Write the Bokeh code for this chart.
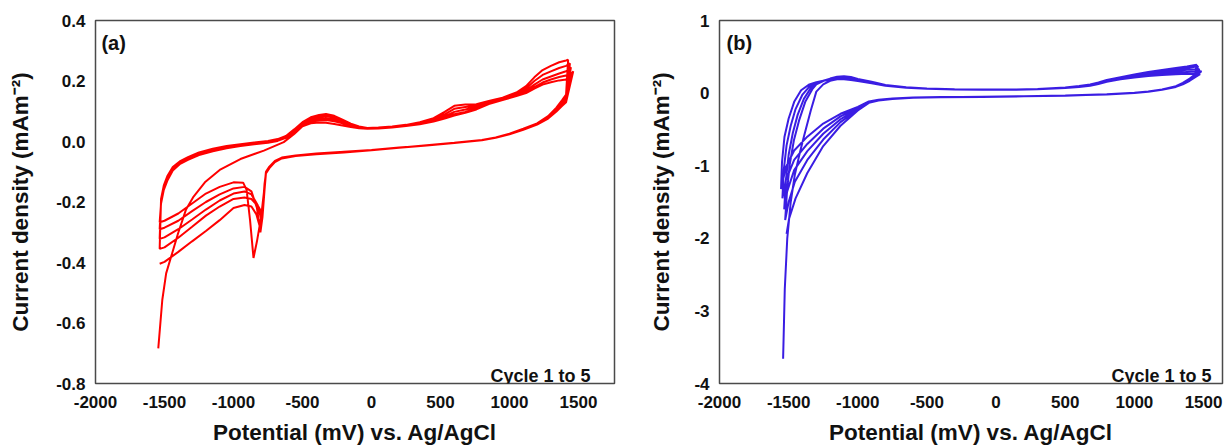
from bokeh.plotting import figure
from bokeh.layouts import row
from bokeh.models import FixedTicker, PrintfTickFormatter, Label, Range1d
from bokeh.embed import file_html
from bokeh.resources import INLINE

# ---------------- Panel (a) data : potential (mV), current density ----------------
A_FIRST_X = [-1545, -1516, -1488, -1445, -1402, -1345, -1289, -1203, -1100, -950, -780, -636, -560, -500]
A_FIRST_Y = [-0.684, -0.524, -0.436, -0.37, -0.304, -0.226, -0.182, -0.133, -0.094, -0.058, -0.030, -0.002, 0.025, 0.050]

A_UP_X = [-1525, -1505, -1480, -1440, -1390, -1330, -1250, -1150, -1050, -950, -850, -750, -680, -620,
          -560, -500, -440, -380, -330, -270, -210, -150, -90, -30, 50, 150, 250, 350, 450, 530, 600,
          680, 760, 850, 950, 1050, 1120, 1180, 1240, 1300, 1360, 1410]
A_UP_C1 = [0.060, 0.063, 0.062, 0.058, 0.053, 0.048, 0.044, 0.042, 0.043, 0.046, 0.051, 0.057, 0.066,
           0.076, 0.086, 0.095, 0.106, 0.124, 0.137, 0.150, 0.160, 0.175, 0.188, 0.196, 0.202, 0.205]
A_UP_C2 = [-0.205, -0.16, -0.13, -0.096, -0.075, -0.061, -0.045, -0.032, -0.022, -0.015, -0.009, -0.004,
           0.002, 0.012, 0.031, 0.055, 0.066, 0.070, 0.071, 0.067, 0.060, 0.051, 0.045, 0.042, 0.043,
           0.047, 0.052, 0.058, 0.067, 0.078, 0.090, 0.098, 0.110, 0.127, 0.139, 0.152, 0.163, 0.180,
           0.195, 0.205, 0.213, 0.218]
A_UP_C3 = [-0.20, -0.155, -0.125, -0.092, -0.072, -0.058, -0.042, -0.030, -0.020, -0.013, -0.007, -0.002,
           0.004, 0.014, 0.034, 0.058, 0.070, 0.076, 0.078, 0.073, 0.064, 0.053, 0.046, 0.043, 0.044,
           0.048, 0.053, 0.060, 0.070, 0.083, 0.098, 0.106, 0.115, 0.130, 0.141, 0.155, 0.168, 0.188,
           0.205, 0.215, 0.225, 0.232]
A_UP_C4 = [-0.195, -0.15, -0.12, -0.088, -0.069, -0.055, -0.039, -0.027, -0.018, -0.011, -0.005, 0.000,
           0.006, 0.016, 0.037, 0.061, 0.075, 0.082, 0.085, 0.079, 0.068, 0.056, 0.048, 0.044, 0.045,
           0.049, 0.054, 0.062, 0.073, 0.090, 0.108, 0.114, 0.119, 0.132, 0.143, 0.158, 0.175, 0.200,
           0.220, 0.232, 0.243, 0.250]
A_UP_C5 = [-0.19, -0.145, -0.115, -0.084, -0.066, -0.052, -0.036, -0.024, -0.015, -0.009, -0.003, 0.002,
           0.008, 0.018, 0.040, 0.064, 0.080, 0.088, 0.091, 0.085, 0.072, 0.059, 0.050, 0.045, 0.046,
           0.050, 0.055, 0.064, 0.077, 0.098, 0.118, 0.122, 0.123, 0.134, 0.145, 0.162, 0.183, 0.212,
           0.236, 0.250, 0.262, 0.268]

A_TURN_X = [1462, 1450, 1445, 1438, 1425]
A_TURN_Y = [0.232, 0.228, 0.245, 0.258, 0.270]

A_DN_X = [1410, 1380, 1340, 1280, 1200, 1100, 1000, 900, 800, 600, 400, 200, 0, -200, -400, -550, -650,
          -700, -740, -765]
A_DN_C1 = [0.13, 0.117, 0.099, 0.076, 0.056, 0.039, 0.024, 0.012, 0.004, -0.005, -0.013, -0.020, -0.028,
           -0.034, -0.040, -0.046, -0.053, -0.064, -0.083, -0.100]
A_DN_C2 = [0.135, 0.121, 0.102, 0.078, 0.057, 0.040, 0.025, 0.012, 0.004, -0.005, -0.013, -0.020, -0.028,
           -0.034, -0.041, -0.047, -0.054, -0.065, -0.085, -0.102]
A_DN_C3 = [0.14, 0.125, 0.105, 0.080, 0.058, 0.040, 0.025, 0.012, 0.004, -0.005, -0.013, -0.021, -0.029,
           -0.035, -0.041, -0.047, -0.054, -0.066, -0.086, -0.104]
A_DN_C4 = [0.147, 0.130, 0.108, 0.082, 0.059, 0.041, 0.026, 0.013, 0.005, -0.004, -0.012, -0.021, -0.029,
           -0.035, -0.041, -0.048, -0.055, -0.067, -0.087, -0.105]
A_DN_C5 = [0.155, 0.136, 0.112, 0.084, 0.060, 0.042, 0.026, 0.013, 0.005, -0.004, -0.012, -0.021, -0.029,
           -0.036, -0.042, -0.048, -0.056, -0.068, -0.088, -0.106]

A_TAIL_X_C1 = [-775, -800, -830, -855, -880, -905, -930, -1000, -1100, -1200, -1300, -1400, -1500, -1535]
A_TAIL_Y_C1 = [-0.15, -0.25, -0.33, -0.385, -0.26, -0.16, -0.136, -0.135, -0.150, -0.172, -0.205, -0.238, -0.262, -0.267]
A_TAIL_X_C2 = [-775, -790, -805, -830, -870, -920, -1000, -1100, -1200, -1300, -1400, -1500, -1535]
A_TAIL_Y_C2 = [-0.16, -0.25, -0.30, -0.22, -0.165, -0.15, -0.155, -0.175, -0.20, -0.23, -0.262, -0.285, -0.29]
A_TAIL_X_C3 = [-775, -788, -800, -825, -870, -920, -1000, -1100, -1200, -1300, -1400, -1500, -1535]
A_TAIL_Y_C3 = [-0.15, -0.22, -0.255, -0.21, -0.175, -0.165, -0.172, -0.195, -0.225, -0.258, -0.29, -0.317, -0.322]
A_TAIL_X_C4 = [-775, -785, -795, -820, -870, -920, -1000, -1100, -1200, -1300, -1400, -1500, -1535]
A_TAIL_Y_C4 = [-0.14, -0.20, -0.235, -0.215, -0.19, -0.185, -0.19, -0.215, -0.245, -0.282, -0.318, -0.35, -0.355]
A_TAIL_X_C5 = [-775, -795, -810, -835, -870, -920, -1000, -1100, -1200, -1300, -1400, -1500, -1535]
A_TAIL_Y_C5 = [-0.16, -0.25, -0.28, -0.24, -0.215, -0.21, -0.22, -0.26, -0.296, -0.33, -0.365, -0.398, -0.404]

# ---------------- Panel (b) data ----------------
B_FIRST_X = [-1540, -1528, -1510, -1485, -1455, -1420, -1390, -1340]
B_FIRST_Y = [-3.66, -2.7, -2.0, -1.5, -1.12, -0.83, -0.6, -0.24]

B_TURNUP_X = [[-1548, -1530, -1500, -1460, -1410, -1350],
              [-1535, -1515, -1485, -1450, -1400, -1350],
              [-1520, -1500, -1470, -1435, -1390, -1340],
              [-1512, -1492, -1462, -1425, -1380, -1330]]
B_TURNUP_Y = [[-0.95, -0.6, -0.35, -0.12, 0.04, 0.12],
              [-1.05, -0.72, -0.45, -0.22, -0.02, 0.09],
              [-1.2, -0.85, -0.55, -0.3, -0.08, 0.07],
              [-1.35, -0.98, -0.65, -0.38, -0.12, 0.05]]

B_UP_X = [-1300, -1250, -1200, -1150, -1100, -1050, -1000, -900, -800, -650, -500, -300, -100, 100, 300,
          500, 600, 680, 740, 800, 900, 1000, 1100, 1200, 1300, 1380]
B_UP_C1 = [0.02, 0.12, 0.17, 0.19, 0.19, 0.18, 0.165, 0.135, 0.10, 0.075, 0.06, 0.05, 0.045, 0.045, 0.053,
           0.07, 0.085, 0.10, 0.125, 0.155, 0.19, 0.215, 0.235, 0.25, 0.26, 0.265]
B_UP_C2 = [0.15, 0.17, 0.185, 0.195, 0.20, 0.19, 0.17, 0.14, 0.105, 0.077, 0.062, 0.051, 0.046, 0.046,
           0.055, 0.073, 0.088, 0.105, 0.132, 0.162, 0.198, 0.225, 0.248, 0.265, 0.28, 0.29]
B_UP_C3 = [0.14, 0.17, 0.195, 0.21, 0.215, 0.205, 0.18, 0.145, 0.108, 0.079, 0.063, 0.052, 0.046, 0.046,
           0.056, 0.075, 0.092, 0.11, 0.138, 0.168, 0.205, 0.235, 0.262, 0.285, 0.305, 0.32]
B_UP_C4 = [0.13, 0.17, 0.20, 0.22, 0.225, 0.215, 0.19, 0.15, 0.11, 0.08, 0.064, 0.053, 0.047, 0.047,
           0.057, 0.077, 0.095, 0.115, 0.143, 0.175, 0.212, 0.245, 0.275, 0.30, 0.325, 0.345]
B_UP_C5 = [0.12, 0.165, 0.20, 0.225, 0.232, 0.222, 0.195, 0.155, 0.112, 0.082, 0.065, 0.054, 0.048, 0.048,
           0.058, 0.078, 0.098, 0.12, 0.148, 0.18, 0.22, 0.255, 0.29, 0.32, 0.345, 0.365]

B_TURN_X = [1475, 1485, 1470, 1460, 1450]
B_TURN_Y = [0.26, 0.30, 0.33, 0.37, 0.39]

B_DN_X = [1440, 1400, 1350, 1300, 1200, 1100, 1000, 800, 500, 200, -100, -400, -600, -750, -850, -920]
B_DN_C1 = [0.22, 0.17, 0.12, 0.085, 0.045, 0.018, 0.002, -0.018, -0.033, -0.043, -0.05, -0.055, -0.06, -0.073, -0.092, -0.115]
B_DN_C2 = [0.23, 0.175, 0.125, 0.088, 0.046, 0.018, 0.002, -0.018, -0.034, -0.044, -0.05, -0.056, -0.062, -0.075, -0.095, -0.12]
B_DN_C3 = [0.24, 0.18, 0.13, 0.09, 0.047, 0.019, 0.003, -0.018, -0.034, -0.044, -0.051, -0.057, -0.063, -0.077, -0.098, -0.125]
B_DN_C4 = [0.25, 0.19, 0.135, 0.093, 0.048, 0.02, 0.003, -0.017, -0.034, -0.045, -0.051, -0.057, -0.064, -0.079, -0.10, -0.13]
B_DN_C5 = [0.26, 0.20, 0.14, 0.096, 0.05, 0.021, 0.004, -0.017, -0.035, -0.045, -0.052, -0.058, -0.065, -0.081, -0.103, -0.135]

B_FAN_X_C1 = [-1000, -1125, -1250, -1365, -1460, -1520, -1555]
B_FAN_Y_C1 = [-0.19, -0.285, -0.42, -0.60, -0.79, -1.02, -1.32]
B_FAN_X_C2 = [-1000, -1125, -1250, -1365, -1460, -1520, -1545]
B_FAN_Y_C2 = [-0.20, -0.32, -0.49, -0.70, -0.92, -1.20, -1.45]
B_FAN_X_C3 = [-1000, -1125, -1250, -1365, -1460, -1510, -1532]
B_FAN_Y_C3 = [-0.21, -0.36, -0.56, -0.80, -1.06, -1.35, -1.60]
B_FAN_X_C4 = [-1000, -1125, -1250, -1365, -1455, -1500, -1525]
B_FAN_Y_C4 = [-0.225, -0.40, -0.64, -0.92, -1.22, -1.50, -1.75]
B_FAN_X_C5 = [-1000, -1125, -1250, -1365, -1450, -1497, -1515]
B_FAN_Y_C5 = [-0.24, -0.45, -0.73, -1.10, -1.45, -1.73, -1.94]

X_TICKS = [-2000, -1500, -1000, -500, 0, 500, 1000, 1500]
A_Y_TICKS = [-0.8, -0.6, -0.4, -0.2, 0.0, 0.2, 0.4]
B_Y_TICKS = [-4, -3, -2, -1, 0, 1]

RED = "#ff0000"
BLUE = "#3a1de3"
FONT = "Liberation Sans"

# ---------------- assemble continuous scans ----------------
a_x, a_y = [], []
a_ups = [A_UP_C1, A_UP_C2, A_UP_C3, A_UP_C4, A_UP_C5]
a_dns = [A_DN_C1, A_DN_C2, A_DN_C3, A_DN_C4, A_DN_C5]
a_tx = [A_TAIL_X_C1, A_TAIL_X_C2, A_TAIL_X_C3, A_TAIL_X_C4, A_TAIL_X_C5]
a_ty = [A_TAIL_Y_C1, A_TAIL_Y_C2, A_TAIL_Y_C3, A_TAIL_Y_C4, A_TAIL_Y_C5]
for k in range(5):
    if k == 0:
        a_x += A_FIRST_X + A_UP_X[16:]
        a_y += A_FIRST_Y + a_ups[0]
    else:
        a_x += A_UP_X
        a_y += a_ups[k]
    a_x += [A_TURN_X[k]] + A_DN_X + a_tx[k]
    a_y += [A_TURN_Y[k]] + a_dns[k] + a_ty[k]

b_x, b_y = [], []
b_ups = [B_UP_C1, B_UP_C2, B_UP_C3, B_UP_C4, B_UP_C5]
b_dns = [B_DN_C1, B_DN_C2, B_DN_C3, B_DN_C4, B_DN_C5]
b_fx = [B_FAN_X_C1, B_FAN_X_C2, B_FAN_X_C3, B_FAN_X_C4, B_FAN_X_C5]
b_fy = [B_FAN_Y_C1, B_FAN_Y_C2, B_FAN_Y_C3, B_FAN_Y_C4, B_FAN_Y_C5]
for k in range(5):
    if k == 0:
        b_x += B_FIRST_X
        b_y += B_FIRST_Y
    else:
        b_x += B_TURNUP_X[k - 1]
        b_y += B_TURNUP_Y[k - 1]
    b_x += B_UP_X + [B_TURN_X[k]] + B_DN_X + b_fx[k]
    b_y += b_ups[k] + [B_TURN_Y[k]] + b_dns[k] + b_fy[k]


def style(p, yfmt, yticks, label_standoff_y):
    p.xaxis.ticker = FixedTicker(ticks=X_TICKS)
    p.yaxis.ticker = FixedTicker(ticks=yticks)
    p.xaxis.formatter = PrintfTickFormatter(format="%d")
    p.yaxis.formatter = PrintfTickFormatter(format=yfmt)
    for ax in (p.xaxis[0], p.yaxis[0]):
        ax.axis_line_color = None
        ax.major_tick_line_color = None
        ax.minor_tick_line_color = None
        ax.major_tick_out = 0
        ax.major_tick_in = 0
        ax.major_label_text_font = FONT
        ax.major_label_text_font_style = "bold"
        ax.major_label_text_font_size = "17px"
        ax.major_label_text_color = "#111111"
        ax.axis_label_text_font = FONT
        ax.axis_label_text_font_style = "bold"
        ax.axis_label_text_font_size = "22.5px"
        ax.axis_label_text_color = "#111111"
    p.xaxis.major_label_standoff = 12
    p.xaxis.axis_label_standoff = 9
    p.yaxis.major_label_standoff = 10
    p.yaxis.axis_label_standoff = label_standoff_y
    p.xaxis.axis_label = "Potential (mV) vs. Ag/AgCl"
    p.yaxis.axis_label = "Current density (mAm\u207b\u00b2)"
    p.grid.visible = False
    p.outline_line_color = "#4a4a4a"
    p.outline_line_width = 1.5
    p.background_fill_color = "white"
    p.border_fill_color = "white"


pa = figure(width=645, height=448, x_range=Range1d(-2000, 1761), y_range=Range1d(-0.8, 0.4),
            output_backend="svg", toolbar_location=None,
            min_border_left=95, min_border_right=31, min_border_top=20, min_border_bottom=65)
style(pa, "%.1f", A_Y_TICKS, 20)
pa.line(a_x, a_y, line_color=RED, line_width=2)
pa.add_layout(Label(x=-1957, y=0.362, text="(a)", text_font=FONT, text_font_style="bold",
                    text_font_size="20px", text_baseline="top", text_align="left", text_color="#111111"))
pa.add_layout(Label(x=1587, y=-0.774, text="Cycle 1 to 5", text_font=FONT, text_font_style="bold",
                    text_font_size="18px", text_baseline="alphabetic", text_align="right",
                    text_color="#111111"))

pb = figure(width=580, height=448, x_range=Range1d(-2000, 1637), y_range=Range1d(-4, 1),
            output_backend="svg", toolbar_location=None,
            min_border_left=74, min_border_right=3, min_border_top=20, min_border_bottom=65)
style(pb, "%d", B_Y_TICKS, 17)
pb.line(b_x, b_y, line_color=BLUE, line_width=2)
pb.add_layout(Label(x=-1949, y=0.848, text="(b)", text_font=FONT, text_font_style="bold",
                    text_font_size="20px", text_baseline="top", text_align="left", text_color="#111111"))
pb.add_layout(Label(x=1557, y=-3.89, text="Cycle 1 to 5", text_font=FONT, text_font_style="bold",
                    text_font_size="18px", text_baseline="alphabetic", text_align="right",
                    text_color="#111111"))

layout = row(pa, pb)
open("out.html", "w").write(file_html(layout, INLINE))
